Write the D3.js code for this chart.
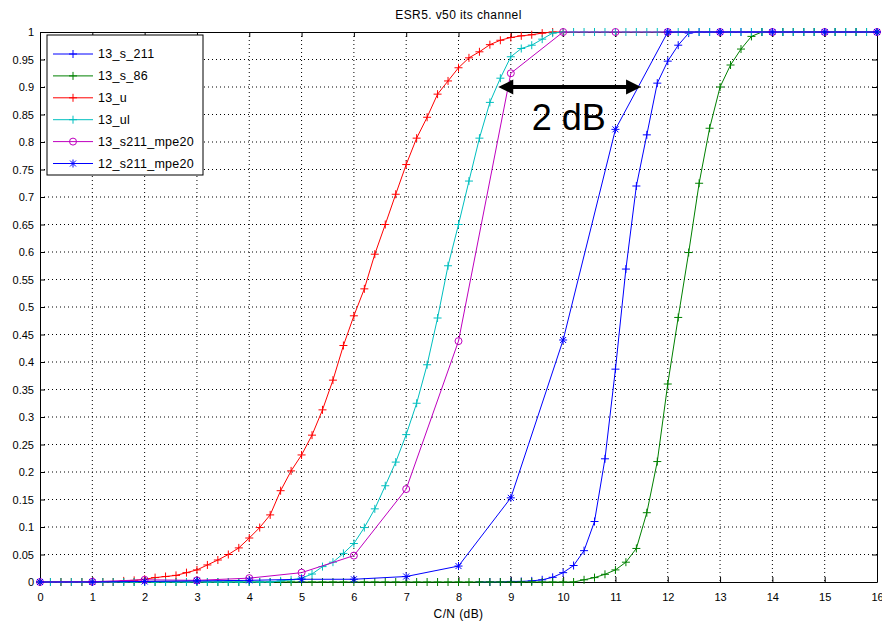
<!DOCTYPE html>
<html>
<head>
<meta charset="utf-8">
<script src="https://cdn.jsdelivr.net/npm/d3@7"></script>
<style>
  body { margin: 0; background: #fff; }
  svg { font-family: "Liberation Sans", Arial, sans-serif; }
  .tick text { font-size: 11px; fill: #000; }
  .grid line { stroke: #000; stroke-dasharray: 1,3; stroke-width: 1; }
</style>
</head>
<body>
<svg class="chart"></svg>
<script>
// chart data
var xTicks = [0,1,2,3,4,5,6,7,8,9,10,11,12,13,14,15,16];
var yTicks = [0,0.05,0.1,0.15,0.2,0.25,0.3,0.35,0.4,0.45,0.5,0.55,0.6,0.65,0.7,0.75,0.8,0.85,0.9,0.95,1];

// "+" series are sampled every 0.2 dB starting at the given C/N
var s211_start = 8.4;
var s211 = [0,0,0,0.001,0.001,0.002,0.004,0.0085,0.017,0.03,0.057,0.11,0.224,0.387,0.569,0.72,0.813,0.907,0.947,0.976,0.998,
            1,1,1,1,1,1,1,1,1,1,1,1,1,1,1,1,1,1];

var s86_start = 0;
var s86 = [0,0,0,0,0,0,0,0,0,0, 0,0,0,0,0,0,0,0,0,0, 0,0,0,0,0,0,0,0,0,0, 0,0,0,0,0,0,0,0,0,0, 0,0,0,0,0,0,0,0,0,0, 0,0,
           0.004,0.008,0.014,0.022,0.036,0.061,0.126,0.219,0.36,0.481,0.599,0.725,0.825,0.9,0.94,0.969,0.992,
           1,1,1,1,1,1,1,1,1,1,1,1];

var u_start = 0;
var u = [0,0,0,0,0,0,0,0,0.002,0.003,0.005,0.008,0.01,0.012,0.017,0.022,0.031,0.04,0.05,0.062,0.08,0.099,
         0.122,0.166,0.202,0.231,0.267,0.313,0.367,0.43,0.484,0.533,0.596,0.65,0.705,0.759,0.807,0.845,0.887,
         0.911,0.935,0.953,0.964,0.977,0.985,0.99,0.993,0.995,0.998,1,1];

var ul_start = 0;
var ul = [0,0,0,0,0,0,0,0,0,0, 0,0,0,0,0,0,0,0,0,0, 0,0,0,
          0.002,0.004,0.007,0.0145,0.028,0.036,0.052,0.07,0.099,0.133,0.175,0.218,0.268,0.325,0.395,0.48,0.575,
          0.65,0.729,0.807,0.872,0.916,0.955,0.97,0.976,0.987,0.998,
          1,1,1,1,1,1,1,1,1,1,1,1,1,1,1,1,1,1,1,1,1,1,1,1,1,1,1,1,1,1,1];

// integer dB points
var mpe_x = [0,1,2,3,4,5,6,7,8,9,10,11,12,13,14,15,16];
var s211_mpe20 = [0,0.0005,0.004,0.003,0.007,0.017,0.048,0.169,0.438,0.925,1,1,1,1,1,1,1];
var s211_mpe20_12 = [0,0,0.001,0.002,0.003,0.005,0.005,0.01,0.029,0.153,0.44,0.823,1,1,1,1,1];

var names = ["13_s_211", "13_s_86", "13_u", "13_ul", "13_s211_mpe20", "12_s211_mpe20"];
var colors = ["#0000ff", "#008000", "#ff0000", "#00bfbf", "#bf00bf", "#0000ff"];
var markers = ["plus", "plus", "plus", "plus", "circle", "star"];

function stepped(start, vals) {
	return vals.map(function(v, i) { return {x: +(start + i*0.2).toFixed(1), y: v}; });
}
function paired(xs, vals) {
	return vals.map(function(v, i) { return {x: xs[i], y: v}; });
}

var series = [
	stepped(s211_start, s211),
	stepped(s86_start, s86),
	stepped(u_start, u),
	stepped(ul_start, ul),
	paired(mpe_x, s211_mpe20),
	paired(mpe_x, s211_mpe20_12)
];

var margin = {top: 32, right: 5, bottom: 41, left: 40};
var totalW = 882, totalH = 623;
var width = totalW - margin.left - margin.right;
var height = totalH - margin.top - margin.bottom;

var svg = d3.select(".chart")
	.attr("width", totalW)
	.attr("height", totalH);
var chart = svg.append("g")
	.attr("transform", "translate(" + margin.left + "," + margin.top + ")");

var x = d3.scaleLinear().domain([0, 16]).range([0, width]);
var y = d3.scaleLinear().domain([0, 1]).range([height, 0]);

// grid
chart.append("g").attr("class", "grid")
	.selectAll("line").data(xTicks.slice(1, -1))
	.enter().append("line")
	.attr("x1", function(d) { return x(d); }).attr("x2", function(d) { return x(d); })
	.attr("y1", 0).attr("y2", height);
chart.append("g").attr("class", "grid")
	.selectAll("line").data(yTicks.slice(1, -1))
	.enter().append("line")
	.attr("y1", function(d) { return y(d); }).attr("y2", function(d) { return y(d); })
	.attr("x1", 0).attr("x2", width);

// axes, ticks pointing inwards on all four sides
function styleAxis(g) {
	g.select(".domain").attr("stroke", "#000");
	g.selectAll(".tick line").attr("stroke", "#000");
}
chart.append("g")
	.attr("transform", "translate(0," + height + ")")
	.call(d3.axisBottom(x).tickValues(xTicks).tickSizeInner(-5).tickSizeOuter(0).tickPadding(11).tickFormat(d3.format("d")))
	.call(styleAxis);
chart.append("g")
	.call(d3.axisTop(x).tickValues(xTicks).tickSizeInner(-5).tickSizeOuter(0).tickFormat(""))
	.call(styleAxis);
chart.append("g")
	.call(d3.axisLeft(y).tickValues(yTicks).tickSizeInner(-5).tickSizeOuter(0).tickPadding(6).tickFormat(d3.format("~g")))
	.call(styleAxis);
chart.append("g")
	.attr("transform", "translate(" + width + ",0)")
	.call(d3.axisRight(y).tickValues(yTicks).tickSizeInner(-5).tickSizeOuter(0).tickFormat(""))
	.call(styleAxis);

// marker shapes
function markerPath(type) {
	var r = 4;
	if (type === "plus") return "M" + (-r) + ",0H" + r + "M0," + (-r) + "V" + r;
	if (type === "star") {
		var q = 3;
		return "M" + (-r) + ",0H" + r + "M0," + (-r) + "V" + r +
			"M" + (-q) + "," + (-q) + "L" + q + "," + q + "M" + (-q) + "," + q + "L" + q + "," + (-q);
	}
	return null;
}

function drawMarker(sel, type, color) {
	if (type === "circle") {
		sel.append("circle").attr("r", 3.5).attr("fill", "none").attr("stroke", color).attr("stroke-width", 1);
	} else {
		sel.append("path").attr("d", markerPath(type)).attr("fill", "none").attr("stroke", color).attr("stroke-width", 1);
	}
}

var line = d3.line()
	.x(function(d) { return x(d.x); })
	.y(function(d) { return y(d.y); });

var plot = chart.append("g");
series.forEach(function(data, i) {
	var g = plot.append("g");
	g.append("path")
		.datum(data)
		.attr("fill", "none")
		.attr("stroke", colors[i])
		.attr("stroke-width", 1)
		.attr("d", line);
	var pts = g.selectAll(".pt").data(data).enter().append("g")
		.attr("transform", function(d) { return "translate(" + x(d.x) + "," + y(d.y) + ")"; });
	drawMarker(pts, markers[i], colors[i]);
});

// 2 dB annotation
var arrowY = 0.9, arrowX1 = 8.76, arrowX2 = 11.49;
var ann = chart.append("g");
var ay = y(arrowY), ax1 = x(arrowX1), ax2 = x(arrowX2);
ann.append("line")
	.attr("x1", ax1 + 12).attr("x2", ax2 - 12)
	.attr("y1", ay).attr("y2", ay)
	.attr("stroke", "#000").attr("stroke-width", 4);
ann.append("path")
	.attr("d", "M" + ax1 + "," + ay + "L" + (ax1 + 15) + "," + (ay - 7.5) + "L" + (ax1 + 15) + "," + (ay + 7.5) + "Z")
	.attr("fill", "#000");
ann.append("path")
	.attr("d", "M" + ax2 + "," + ay + "L" + (ax2 - 15) + "," + (ay - 7.5) + "L" + (ax2 - 15) + "," + (ay + 7.5) + "Z")
	.attr("fill", "#000");
ann.append("text")
	.attr("x", x(9.4)).attr("y", y(0.822))
	.style("font-size", "36px")
	.text("2 dB");

// title and x label
svg.append("text")
	.attr("x", margin.left + width/2).attr("y", 19)
	.attr("text-anchor", "middle")
	.style("font-size", "12px")
	.style("letter-spacing", "0.4px")
	.text("ESR5. v50 its channel");
svg.append("text")
	.attr("x", margin.left + width/2).attr("y", 618)
	.attr("text-anchor", "middle")
	.style("font-size", "12px")
	.style("letter-spacing", "0.4px")
	.text("C/N (dB)");

// legend
var legend = svg.append("g").attr("transform", "translate(47,35)");
legend.append("rect")
	.attr("width", 156).attr("height", 140)
	.attr("fill", "#fff").attr("stroke", "#000");
names.forEach(function(name, i) {
	var row = legend.append("g").attr("transform", "translate(0," + (19 + i*21.9) + ")");
	row.append("line").attr("x1", 6).attr("x2", 46).attr("stroke", colors[i]);
	drawMarker(row.append("g").attr("transform", "translate(26,0)"), markers[i], colors[i]);
	row.append("text")
		.attr("x", 51).attr("dy", "0.35em")
		.style("font-size", "12.5px")
		.style("letter-spacing", "0.3px")
		.text(name);
});
</script>
</body>
</html>
